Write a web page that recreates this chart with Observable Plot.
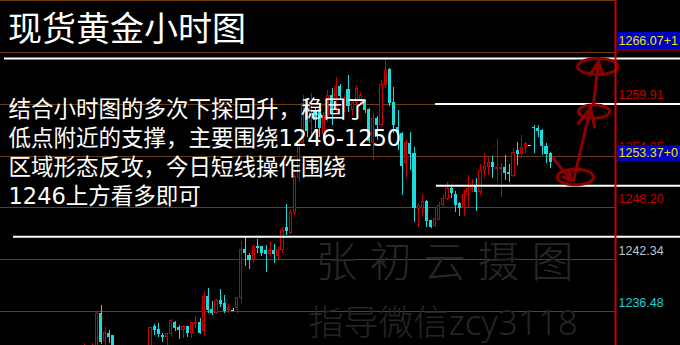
<!DOCTYPE html>
<html>
<head>
<meta charset="utf-8">
<script src="https://cdn.jsdelivr.net/npm/d3@7"></script>
<script src="https://cdn.jsdelivr.net/npm/@observablehq/plot@0.6"></script>
<style>
  html, body { margin: 0; padding: 0; background: #000; overflow: hidden; }
  #chart svg { display: block; }
</style>
</head>
<body>
<div id="chart"></div>
<script>
// ---- text ----
const title = "现货黄金小时图";
const noteLines = [
  "结合小时图的多次下探回升，稳固了",
  "低点附近的支撑，主要围绕1246-1250",
  "区域形态反攻，今日短线操作围绕",
  "1246上方看多即可"
];
const watermarkName = "张初云摄图";
const watermarkContact = "指导微信zcy3118";

// ---- hourly bars (bar number, open, high, low, close) ----
const barIndex = [0, 2, 3, 4, 5, 6, 7,
  16, 17, 18, 19, 20, 21, 22, 23, 24, 25, 26, 27, 28, 29, 30, 31, 32, 33, 34, 35, 36, 37, 38, 39,
  40, 41, 42, 43, 44, 45, 46, 47, 48, 49, 50, 51, 52, 53, 54, 55, 56, 57, 58, 59, 60, 61, 62, 63,
  64, 65, 66, 67, 68, 69, 70, 71, 72, 73, 74, 75, 76, 77, 78, 79, 80, 81, 82, 83, 84, 85, 86, 87,
  88, 89, 90, 91, 92, 93, 94, 95, 96, 97, 98, 99, 100, 101, 102, 103, 104, 105, 106, 107, 108,
  109, 110, 111, 112, 113];
const opens = [1231.85, 1231.74, 1230.95, 1236.26, 1233.10, 1233.89, 1233.66,
  1232.08, 1234.68, 1234.45, 1233.77, 1233.55, 1233.89, 1235.24, 1234.57, 1234.34, 1234.68, 1234.00, 1235.02, 1235.24, 1234.23, 1238.08, 1236.60, 1236.37, 1237.73, 1237.39, 1236.60, 1236.60, 1236.83, 1237.96, 1243.39,
  1242.82, 1242.37, 1243.73, 1243.73, 1243.28, 1242.94, 1243.28, 1242.82, 1243.39, 1245.88, 1245.42, 1247.68, 1251.54, 1255.60, 1259.57, 1257.87, 1259.00, 1259.23, 1256.62, 1258.66, 1260.92, 1260.36, 1261.94, 1259.68,
  1261.49, 1259.23, 1260.13, 1260.47, 1260.02, 1259.23, 1255.60, 1258.32, 1257.64, 1262.06, 1263.86, 1260.02, 1257.30, 1256.62, 1253.23, 1255.49, 1254.36, 1248.03, 1248.25, 1248.82, 1246.67, 1246.21, 1246.89, 1248.48,
  1249.27, 1250.29, 1249.72, 1248.60, 1248.25, 1249.72, 1250.29, 1250.52, 1249.95, 1252.33, 1252.89, 1253.34, 1252.61, 1252.61, 1252.67, 1252.10, 1251.87, 1254.59, 1254.36, 1255.04, 1255.26,
  1257.30, 1257.08, 1256.85, 1255.04, 1254.25];
const highs = [1232.87, 1232.87, 1236.37, 1237.16, 1234.68, 1234.34, 1233.77,
  1234.68, 1235.02, 1235.13, 1234.00, 1234.00, 1235.58, 1235.36, 1234.90, 1234.90, 1234.79, 1235.24, 1235.92, 1235.70, 1238.76, 1239.10, 1237.62, 1237.85, 1238.98, 1238.30, 1237.28, 1236.83, 1238.08, 1244.41, 1244.86,
  1243.05, 1243.96, 1244.64, 1243.73, 1243.96, 1244.41, 1244.07, 1243.73, 1245.99, 1248.60, 1248.03, 1251.99, 1256.06, 1260.92, 1260.36, 1261.15, 1259.45, 1260.02, 1259.00, 1261.49, 1261.71, 1262.96, 1262.17, 1260.92,
  1263.19, 1260.47, 1261.94, 1261.26, 1260.25, 1259.45, 1258.89, 1258.55, 1262.62, 1265.00, 1263.98, 1261.83, 1259.23, 1256.74, 1255.83, 1256.74, 1255.04, 1248.71, 1249.72, 1249.05, 1246.67, 1248.14, 1248.82, 1249.61,
  1251.08, 1250.52, 1250.06, 1248.82, 1250.18, 1251.87, 1251.42, 1251.54, 1253.12, 1254.36, 1253.91, 1254.02, 1255.95, 1253.23, 1254.13, 1253.12, 1254.93, 1255.60, 1256.40, 1255.60, 1255.26,
  1257.53, 1257.53, 1257.08, 1255.49, 1254.47];
const lows = [1231.51, 1231.40, 1230.72, 1232.76, 1232.31, 1232.87, 1231.51,
  1231.85, 1233.77, 1233.55, 1232.98, 1232.64, 1233.55, 1234.23, 1233.32, 1233.44, 1233.55, 1233.44, 1234.57, 1233.89, 1233.77, 1236.26, 1236.03, 1236.15, 1236.94, 1236.26, 1236.26, 1236.49, 1236.26, 1237.39, 1241.58,
  1241.24, 1241.92, 1243.05, 1242.71, 1240.90, 1242.60, 1241.92, 1242.37, 1243.05, 1245.09, 1245.20, 1247.34, 1251.08, 1255.26, 1256.17, 1255.83, 1257.19, 1256.17, 1255.83, 1257.87, 1257.53, 1258.89, 1260.36, 1259.00,
  1259.00, 1258.55, 1259.79, 1259.79, 1258.89, 1255.49, 1253.57, 1255.83, 1257.30, 1261.71, 1259.68, 1256.62, 1254.70, 1249.61, 1251.54, 1252.44, 1246.56, 1245.99, 1247.23, 1245.99, 1245.88, 1245.99, 1246.78, 1248.25,
  1249.05, 1249.27, 1247.68, 1247.23, 1247.23, 1248.25, 1249.95, 1247.80, 1249.61, 1251.54, 1251.87, 1251.54, 1251.08, 1249.39, 1251.31, 1251.08, 1251.65, 1253.00, 1253.80, 1254.36, 1255.26,
  1254.36, 1256.17, 1254.13, 1253.23, 1252.67];
const closes = [1232.53, 1232.42, 1236.26, 1232.98, 1234.00, 1233.55, 1231.85,
  1234.57, 1234.45, 1233.89, 1233.55, 1233.89, 1235.36, 1234.57, 1234.34, 1234.68, 1234.00, 1235.13, 1235.24, 1234.11, 1238.08, 1236.60, 1236.37, 1237.73, 1237.39, 1236.49, 1236.83, 1236.60, 1237.96, 1243.39, 1243.05,
  1242.26, 1243.73, 1243.62, 1243.16, 1242.94, 1243.28, 1242.94, 1243.39, 1245.65, 1245.54, 1247.68, 1251.65, 1255.83, 1259.91, 1256.96, 1259.57, 1258.10, 1257.19, 1258.66, 1260.92, 1259.23, 1261.94, 1260.92, 1260.36,
  1259.79, 1260.02, 1261.71, 1260.92, 1259.23, 1255.83, 1258.32, 1257.53, 1262.06, 1263.75, 1260.02, 1257.53, 1256.74, 1253.00, 1255.60, 1254.36, 1248.14, 1248.37, 1248.82, 1246.67, 1245.99, 1247.00, 1248.37, 1249.27,
  1250.40, 1249.84, 1248.48, 1248.25, 1249.61, 1250.29, 1250.52, 1249.95, 1252.33, 1252.89, 1253.34, 1252.89, 1252.72, 1252.72, 1252.10, 1251.99, 1254.47, 1254.36, 1254.93, 1255.38, 1255.26,
  1257.19, 1256.96, 1255.26, 1254.36, 1253.37];

// ---- price grid and axis labels ----
const gridPrices = [1271.63, 1265.77, 1259.91, 1254.05, 1248.20, 1242.34, 1236.48];
const axisLabels = [1259.91, 1254.05, 1248.20, 1242.34, 1236.48];
const priceTags = [1266.07, 1253.37];
const priceTagTexts = ["1266.07+1", "1253.37+0"];

// ---- drawn support / resistance lines (price, first bar) ----
const levelPrices = [1265.11, 1259.96, 1250.72, 1244.95];
const levelStarts = [-19.4, 85.1, 85.3, -17.2];

// ---- hand-drawn circles (bar, price, radius in bars, radius in price) ----
const circleBars = [124.4, 123.5, 119.0];
const circlePrices = [1264.20, 1259.11, 1251.70];
const circleRadBars = [4.85, 3.8, 4.4];
const circleRadPrices = [0.9, 0.75, 0.88];

// ---- arrows (from bar/price to bar/price) ----
const arrowFromBars = [113.7, 118.55, 123.4];
const arrowFromPrices = [1253.80, 1251.31, 1259.95];
const arrowToBars = [118.1, 122.7, 124.6];
const arrowToPrices = [1251.25, 1259.55, 1264.80];

// ---- build tables ----
const bars = barIndex.map((i, n) => ({
  i, open: opens[n], high: highs[n], low: lows[n], close: closes[n]
}));
const RED = "#cc0000", CYAN = "#1adcdc", GRAY = "#c8c8c8";
const barColor = d => d.close > d.open ? RED : d.close < d.open ? CYAN : GRAY;
const upBars = bars.filter(d => d.close > d.open);
const downBars = bars.filter(d => d.close < d.open);
const flatBars = bars.filter(d => d.close === d.open);

const levels = levelPrices.map((p, n) => ({price: p, start: levelStarts[n]}));
const tags = priceTags.map((v, n) => ({value: v, text: priceTagTexts[n]}));

const ellipsePts = circleBars.flatMap((cx, n) =>
  d3.range(0, 361, 5).map(a => ({
    id: n,
    i: cx + circleRadBars[n] * Math.cos(a * Math.PI / 180),
    p: circlePrices[n] + circleRadPrices[n] * Math.sin(a * Math.PI / 180)
  })));
const arrows = arrowFromBars.map((b, n) => ({
  x1: b, y1: arrowFromPrices[n], x2: arrowToBars[n], y2: arrowToPrices[n]
}));

const xMin = -20.364, xMax = 128.727;
const labelColor = v => v === 1242.34 ? "#b8c4d4" : v === 1236.48 ? "#18d0d8" : "#c00000";
const CJK = "'Noto Sans CJK SC', 'Noto Sans', sans-serif";
const NOTEFONT = "'DejaVu Sans', 'Noto Sans CJK SC', sans-serif";
const MARKFONT = "'Noto Sans', 'Noto Sans CJK SC', sans-serif";
const AXISFONT = "'Liberation Sans', Arial, sans-serif";
const ANNOT = "#8e0000";

const chart = Plot.plot({
  width: 680,
  height: 345,
  marginTop: 0,
  marginLeft: 0,
  marginBottom: 0,
  marginRight: 65,
  style: {background: "#000", overflow: "hidden"},
  x: {domain: [xMin, xMax], axis: null},
  y: {domain: [1232.64, 1271.67], axis: null},
  marks: [
    // price grid
    Plot.ruleY(gridPrices, {stroke: "#6e3c0e", strokeWidth: 1, shapeRendering: "crispEdges"}),

    // watermark
    Plot.text([watermarkName], {
      text: d => d, frameAnchor: "top-left", textAnchor: "start", lineAnchor: "middle",
      dx: 315, dy: 263, fontSize: 42, fontWeight: 300, fontFamily: CJK, fill: "#272727"
    }),
    Plot.text([watermarkContact], {
      text: d => d, frameAnchor: "top-left", textAnchor: "start", lineAnchor: "middle",
      dx: 308, dy: 323, fontSize: 35, fontWeight: 300, fontFamily: MARKFONT, fill: "#252525"
    }),

    // candles: wicks, then bodies
    Plot.ruleX(bars, {x: "i", y1: "low", y2: "high", stroke: barColor, strokeWidth: 1, shapeRendering: "crispEdges"}),
    Plot.rect(downBars, {
      x1: d => d.i - 0.25, x2: d => d.i + 0.25, y1: "open", y2: "close",
      fill: CYAN, stroke: CYAN, strokeWidth: 1, shapeRendering: "crispEdges"
    }),
    Plot.rect(upBars, {
      x1: d => d.i - 0.25, x2: d => d.i + 0.25, y1: "open", y2: "close",
      fill: "#000", stroke: RED, strokeWidth: 1, shapeRendering: "crispEdges"
    }),
    Plot.ruleY(flatBars, {
      y: "close", x1: d => d.i - 0.4, x2: d => d.i + 0.4, stroke: GRAY, strokeWidth: 1.5, shapeRendering: "crispEdges"
    }),

    // support / resistance lines
    Plot.ruleY(levels, {y: "price", x1: "start", x2: () => 146, stroke: "#ffffff", strokeWidth: 2}),

    // title and commentary
    Plot.text([title], {
      text: d => d, frameAnchor: "top-left", textAnchor: "start", lineAnchor: "top",
      dx: 7.5, dy: 16.5, fontSize: 34, fontFamily: CJK, fill: "#ffffff"
    }),
    Plot.text([noteLines.join("\n")], {
      text: d => d, frameAnchor: "top-left", textAnchor: "start", lineAnchor: "top",
      dx: 8, dy: 95.5, fontSize: 22.5, lineHeight: 1.29, fontFamily: NOTEFONT, fill: "#ffffff"
    }),

    // hand-drawn circles and arrows
    Plot.line(ellipsePts, {x: "i", y: "p", z: "id", stroke: ANNOT, strokeWidth: 3, curve: "linear"}),
    Plot.arrow(arrows, {
      x1: "x1", y1: "y1", x2: "x2", y2: "y2", stroke: ANNOT, strokeWidth: 3,
      headLength: 10, headAngle: 50
    }),

    // price axis
    Plot.ruleX([xMax], {stroke: "#cc0000", strokeWidth: 2}),
    Plot.text(axisLabels, {
      y: d => d, text: d => d.toFixed(2), frameAnchor: "right", textAnchor: "start",
      dx: 3, dy: -9, fontSize: 12.5, fontFamily: AXISFONT, fill: labelColor
    }),
    Plot.rect(tags, {
      x1: () => xMax + 0.45, x2: () => 150, y1: d => d.value + 0.05, y2: d => d.value + 1.95,
      fill: "#0000c0", shapeRendering: "crispEdges"
    }),
    Plot.ruleY(tags.slice(0, 1), {
      y: "value", x1: () => xMax + 0.45, x2: () => 150, stroke: "#cc0000", strokeWidth: 1
    }),
    Plot.text(tags, {
      y: d => d.value + 1.0, text: "text", frameAnchor: "right", textAnchor: "start",
      dx: 3, fontSize: 12.5, fontFamily: AXISFONT, fill: "#e8e800"
    })
  ]
});

// spread the signature characters out like a handwritten stamp
d3.select(chart).selectAll("text")
  .filter(function() { return this.textContent === watermarkName; })
  .style("letter-spacing", "12px");
document.getElementById("chart").appendChild(chart);
</script>
</body>
</html>
